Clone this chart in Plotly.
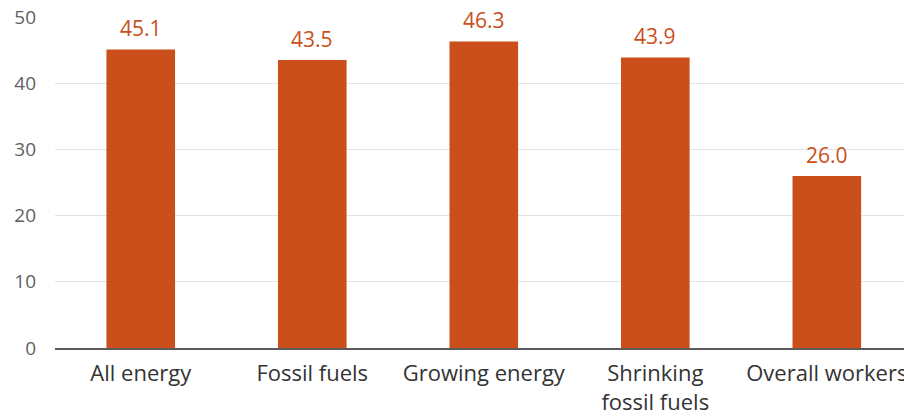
import plotly.graph_objects as go

categories = ["All energy", "Fossil fuels", "Growing energy", "Shrinking<br>fossil fuels", "Overall workers"]
values = [45.1, 43.5, 46.3, 43.9, 26.0]
labels = ["45.1", "43.5", "46.3", "43.9", "26.0"]
y_ticks = [0, 10, 20, 30, 40, 50]

bar_color = "#CA4F1A"
font_family = "'Open Sans', Lato, sans-serif"

fig = go.Figure()
fig.add_trace(go.Bar(
    x=categories, y=values,
    marker=dict(color=bar_color, line=dict(width=0)),
    hoverinfo="skip",
))

for c, v, t in zip(categories, values, labels):
    fig.add_annotation(
        x=c, y=v, text=t, showarrow=False,
        yanchor="bottom", yshift=5,
        font=dict(family=font_family, size=21, color=bar_color),
    )

fig.update_layout(
    width=904, height=417,
    margin=dict(l=55, r=0, t=17, b=69),
    plot_bgcolor="white", paper_bgcolor="white",
    bargap=0.6,
    showlegend=False,
    font=dict(family=font_family),
)
fig.update_xaxes(
    range=[-0.5, 4.45],
    automargin=False,
    showgrid=False,
    showline=True, linecolor="#5a5a5a", linewidth=1.5,
    ticks="",
    tickfont=dict(size=22, color="#333333"),
    ticklabelstandoff=5,
)
fig.update_yaxes(
    range=[0, 50],
    automargin=False,
    tickvals=y_ticks,
    showgrid=True, gridcolor="#e3e3e3", gridwidth=1,
    zeroline=False,
    showline=False,
    ticks="",
    tickfont=dict(size=19, color="#5f5f5f"),
    ticklabelstandoff=18,
)

fig.write_html("out.html")
